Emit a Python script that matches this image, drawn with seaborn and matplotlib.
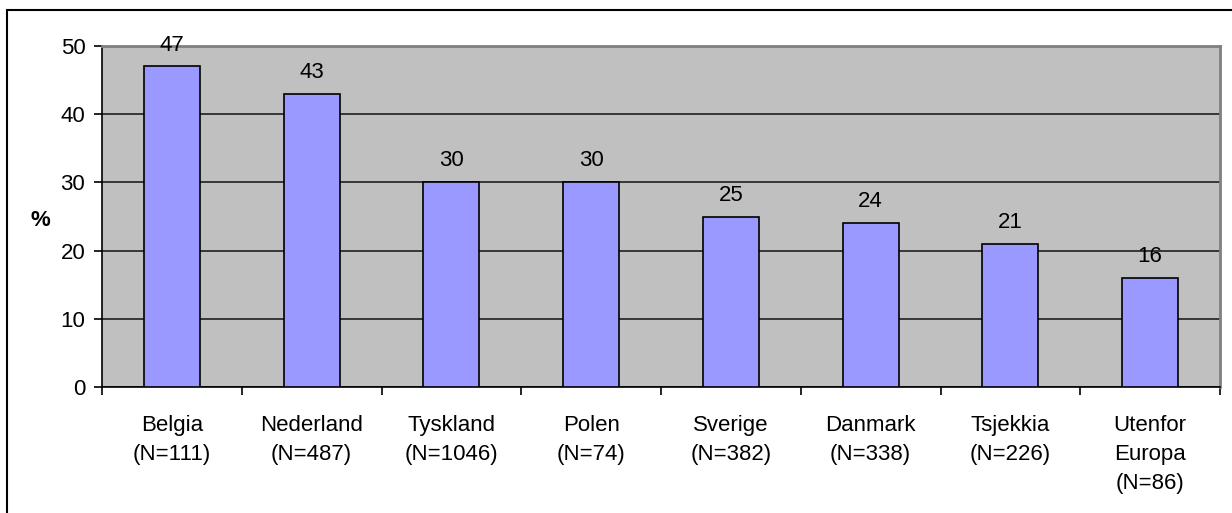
import numpy as np
import pandas as pd
import matplotlib
matplotlib.use('Agg')
import matplotlib.pyplot as plt
import seaborn as sns
from matplotlib.patches import Rectangle

# Data
countries = ['Belgia\n(N=111)', 'Nederland\n(N=487)', 'Tyskland\n(N=1046)', 'Polen\n(N=74)',
             'Sverige\n(N=382)', 'Danmark\n(N=338)', 'Tsjekkia\n(N=226)', 'Utenfor\nEuropa\n(N=86)']
percent = [47, 43, 30, 30, 25, 24, 21, 16]

df = pd.DataFrame({'land': countries, 'pct': percent})

sns.set_style('white')
plt.rcParams['font.family'] = ['Liberation Sans', 'DejaVu Sans']
plt.rcParams['font.size'] = 16
plt.rcParams['text.color'] = 'black'
plt.rcParams['xtick.color'] = 'black'
plt.rcParams['ytick.color'] = 'black'

fig = plt.figure(figsize=(12.32, 5.13), dpi=100)
ax = fig.add_axes([102 / 1232, 1 - 387 / 513, 1118 / 1232, 341 / 513])

ax.set_facecolor('#C0C0C0')
sns.barplot(data=df, x='land', y='pct', color='#9999FF', edgecolor='black',
            linewidth=1.2, width=0.4, saturation=1, ax=ax, zorder=3)

# gridlines
ax.set_ylim(0, 50)
ax.set_yticks(np.arange(0, 51, 10))
ax.yaxis.grid(True, color='#202020', linewidth=1.2, zorder=1)
ax.set_axisbelow(True)
ax.set_xlim(-0.5, len(countries) - 0.5)

# value labels
for i, v in enumerate(percent):
    ax.text(i, v + 1.6, str(v), ha='center', va='bottom', fontsize=16, zorder=4)

# axes styling
for s in ['top', 'right']:
    ax.spines[s].set_color('#808080')
    ax.spines[s].set_linewidth(2)
for s in ['left', 'bottom']:
    ax.spines[s].set_color('black')
    ax.spines[s].set_linewidth(1.2)

ax.set_xticks(range(len(countries)))
ax.set_xticklabels(countries, linespacing=1.5, va='top')
ax.tick_params(axis='x', length=0, pad=20, labelsize=16)
ax.set_xticks(np.arange(-0.5, len(countries), 1), minor=True)
ax.tick_params(axis='x', which='minor', bottom=True, length=6, width=1.2, color='black', direction='out')
ax.tick_params(axis='y', left=True, length=6, width=1.2, color='black', direction='out', pad=6, labelsize=16)
ax.set_xlabel('')
ax.set_ylabel('')

fig.text(40 / 1232, 1 - 221 / 513, '%', ha='center', va='center', fontsize=16, fontweight='bold')

# outer chart frame
fig.patches.append(Rectangle((7 / 1232, -0.1), 1.2, 1 - 10 / 513 + 0.1, transform=fig.transFigure,
                             fill=False, edgecolor='black', linewidth=1.5))

fig.savefig('out.png', dpi=100)
